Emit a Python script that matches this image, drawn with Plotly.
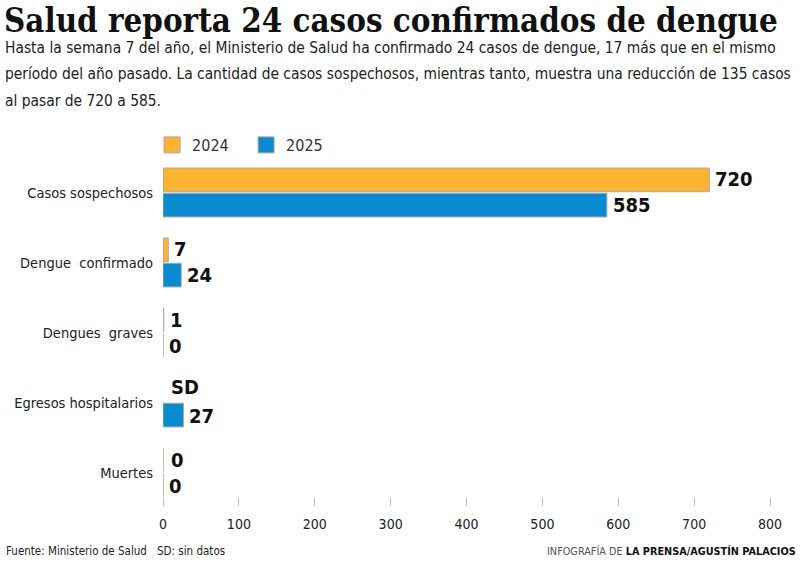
import plotly.graph_objects as go

categories = ["Casos sospechosos", "Dengue  confirmado", "Dengues  graves", "Egresos hospitalarios", "Muertes"]
values_2024 = [720, 7, 1, None, 0]
values_2025 = [585, 24, 0, 27, 0]
labels_2024 = ["720", "7", "1", "SD", "0"]
labels_2025 = ["585", "24", "0", "27", "0"]
x_ticks = [0, 100, 200, 300, 400, 500, 600, 700, 800]

ORANGE = "#FBB431"
BLUE = "#0A8BD1"
NARROW = "DejaVu Sans Condensed, sans-serif"

fig = go.Figure()
fig.add_trace(go.Bar(y=categories, x=values_2024, orientation="h", name="2024", showlegend=False,
                     marker=dict(color=ORANGE, line=dict(color="#A8A8A8", width=1))))
fig.add_trace(go.Bar(y=categories, x=values_2025, orientation="h", name="2025", showlegend=False,
                     marker=dict(color=BLUE, line=dict(color="#A8A8A8", width=1))))
# legend entries with larger square swatches
for name, col in [("2024", ORANGE), ("2025", BLUE)]:
    fig.add_trace(go.Scatter(x=[None], y=[None], mode="markers", name=name,
                             marker=dict(symbol="square", size=18, color=col, line=dict(color="#A8A8A8", width=1))))

for cat, v, lab in zip(categories, values_2024, labels_2024):
    fig.add_annotation(x=v if v is not None else 0, y=cat, text="<b>" + lab + "</b>", showarrow=False,
                       xanchor="left", yanchor="middle", xshift=4 if v else 6, yshift=13 if v is not None else 16,
                       font=dict(family=NARROW, size=20, color="#111"), xref="x", yref="y")
for cat, v, lab in zip(categories, values_2025, labels_2025):
    fig.add_annotation(x=v, y=cat, text="<b>" + lab + "</b>", showarrow=False,
                       xanchor="left", yanchor="middle", xshift=4, yshift=-13,
                       font=dict(family=NARROW, size=20, color="#111"), xref="x", yref="y")

# title and subtitle
fig.add_annotation(xref="paper", yref="paper", x=-161/607, y=1 + 137/340, xanchor="left", yanchor="middle",
                   text="<b>Salud reporta 24 casos confirmados de dengue</b>", showarrow=False,
                   font=dict(family="DejaVu Serif Condensed, DejaVu Serif, serif", size=32.8, color="#111"))
subtitle_lines = [
    "Hasta la semana 7 del año, el Ministerio de Salud ha confirmado 24 casos de dengue, 17 más que en el mismo",
    "período del año pasado. La cantidad de casos sospechosos, mientras tanto, muestra una reducción de 135 casos",
    "al pasar de 720 a 585.",
]
for i, line in enumerate(subtitle_lines):
    fig.add_annotation(xref="paper", yref="paper", x=-160/607, y=1 + (157 - 48 - 26.5 * i)/340,
                       xanchor="left", yanchor="middle", text=line, showarrow=False, align="left",
                       font=dict(family=NARROW, size=15.4, color="#222"))
fig.add_annotation(xref="paper", yref="paper", x=-159/607, y=-54/340, xanchor="left", yanchor="middle",
                   text="Fuente: Ministerio de Salud", showarrow=False,
                   font=dict(family=NARROW, size=11.5, color="#222"))
fig.add_annotation(xref="paper", yref="paper", x=-8/607, y=-54/340, xanchor="left", yanchor="middle",
                   text="SD: sin datos", showarrow=False,
                   font=dict(family=NARROW, size=11.5, color="#222"))
fig.add_annotation(xref="paper", yref="paper", x=1 + 28/607, y=-54/340, xanchor="right", yanchor="middle",
                   text="<span style='color:#555'>INFOGRAFÍA DE </span><b>LA PRENSA/AGUSTÍN PALACIOS</b>", showarrow=False,
                   font=dict(family=NARROW, size=10.8, color="#111"))

fig.update_layout(
    width=800, height=562,
    margin=dict(l=163, r=30, t=157, b=65, autoexpand=False),
    paper_bgcolor="white", plot_bgcolor="white",
    barmode="group", bargap=0.28, bargroupgap=0.06,
    showlegend=True,
    legend=dict(orientation="h", x=-0.018, xanchor="left", y=1 + 29/340, yanchor="top",
                font=dict(family=NARROW, size=16, color="#333"), itemwidth=30, traceorder="normal",
                entrywidthmode="pixels", entrywidth=49),
    font=dict(family=NARROW),
)
fig.update_xaxes(range=[0, 800], tickvals=x_ticks, showgrid=False, zeroline=False, showline=False, automargin=False,
                 ticks="outside", ticklen=8, tickcolor="#BBBBBB", tickwidth=1, ticklabelstandoff=6,
                 tickfont=dict(family=NARROW, size=14, color="#222"))
fig.update_yaxes(range=[4.35, -0.507], showgrid=False, zeroline=False, showline=False, ticks="", automargin=False,
                 ticklabelstandoff=9, tickfont=dict(family=NARROW, size=14.5, color="#222"))

fig.write_html("out.html", config={"displayModeBar": False},
               post_script="document.body.style.margin='0';")
